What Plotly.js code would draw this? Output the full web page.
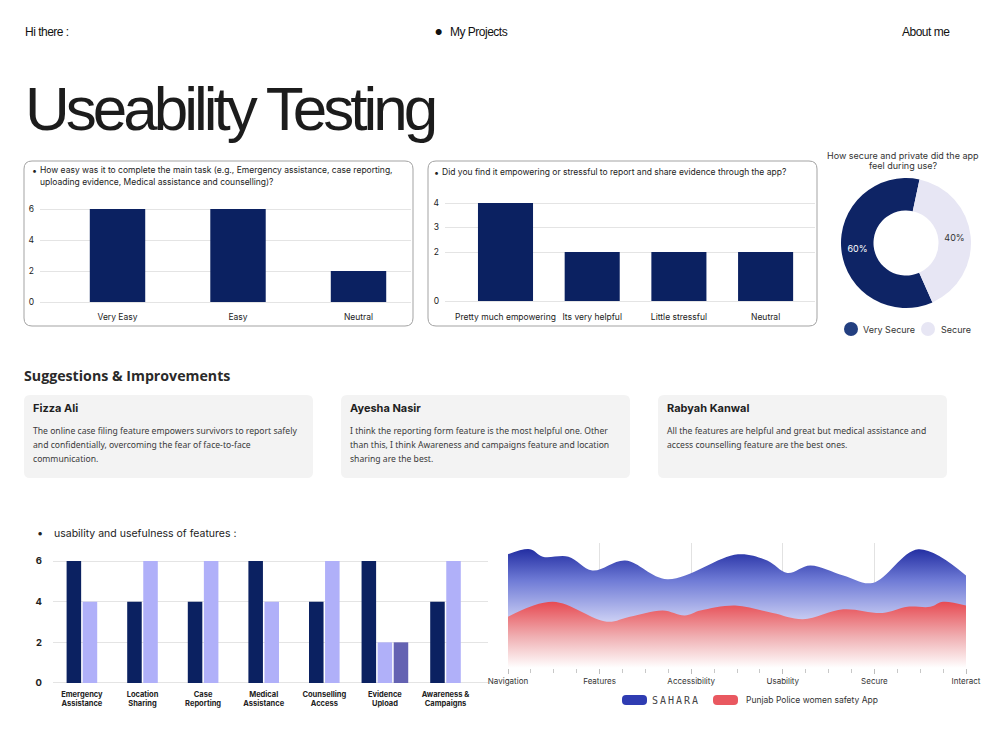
<!DOCTYPE html>
<html>
<head>
<meta charset="utf-8">
<script src="https://cdn.plot.ly/plotly-3.0.1.min.js"></script>
<style>
  html, body { margin: 0; padding: 0; background: #ffffff; }
  #page { width: 1000px; height: 750px; }
</style>
</head>
<body>
<div id="page"></div>
<script>
// ---- survey results ----
const easeCategories = ['Very Easy', 'Easy', 'Neutral'];
const easeCounts = [6, 6, 2];

const feelCategories = ['Pretty much empowering', 'Its very helpful', 'Little stressful', 'Neutral'];
const feelCounts = [4, 2, 2, 2];
const feelTicks = [0, 2, 3, 4];

const securityLabels = ['Very Secure', 'Secure'];
const securityShares = [60, 40];

const featureNames = ['Emergency<br>Assistance', 'Location<br>Sharing', 'Case<br>Reporting',
  'Medical<br>Assistance', 'Counselling<br>Access', 'Evidence<br>Upload', 'Awareness &<br>Campaigns'];
const featureRatingA = [6, 4, 4, 6, 4, 6, 4];
const featureRatingB = [4, 6, 6, 4, 6, 2, 6];
const featureRatingC = [null, null, null, null, null, 2, null];

const compareAspects = ['Navigation', 'Features', 'Accessibility', 'Usability', 'Secure', 'Interact'];
const saharaPos = [0, 0.24, 0.38, 0.66, 0.92, 1.28, 1.74, 2.51, 2.83, 3.05, 3.30, 3.66, 3.98, 4.48, 5];
const saharaScore = [91, 95, 89, 89, 78, 86, 71, 91, 86, 76, 82, 74, 68, 95, 74];
const punjabPos = [0, 0.49, 1.08, 1.33, 1.69, 1.93, 2.10, 2.48, 2.89, 3.22, 3.66, 4.09, 4.36, 4.61, 4.75, 5];
const punjabScore = [41, 53, 37, 41, 46, 42, 46, 50, 44, 39, 47, 44, 49, 49, 53, 50];

const reviewers = ['Fizza Ali', 'Ayesha Nasir', 'Rabyah Kanwal'];
const reviewLines = [
  ['The online case filing feature empowers survivors to report safely',
   'and confidentially, overcoming the fear of face-to-face',
   'communication.'],
  ['I think the reporting form feature is the most helpful one. Other',
   'than this, I think Awareness and campaigns feature and location',
   'sharing are the best.'],
  ['All the features are helpful and great but medical assistance and',
   'access counselling feature are the best ones.']
];

// ---- page geometry helpers (pixel -> paper) ----
const W = 1000, H = 750;
const fx = p => p / W;
const fy = p => 1 - p / H;

const NAVY = '#0b2161';
const LAVENDER = '#b0b0f9';
const PURPLE = '#6462b2';
const SANS = 'Inter, "Liberation Sans", sans-serif';
const BODY = '"Noto Sans", "Open Sans", sans-serif';
const HEAD = '"Liberation Sans", Arial, sans-serif';

function roundRect(x0, y0, x1, y1, r, fill, line) {
  const rx = r / W, ry = r / H;
  const X0 = fx(x0), X1 = fx(x1), Y0 = fy(y0), Y1 = fy(y1);
  const path = `M ${X0 + rx} ${Y0} L ${X1 - rx} ${Y0} Q ${X1} ${Y0} ${X1} ${Y0 - ry} ` +
    `L ${X1} ${Y1 + ry} Q ${X1} ${Y1} ${X1 - rx} ${Y1} L ${X0 + rx} ${Y1} Q ${X0} ${Y1} ${X0} ${Y1 + ry} ` +
    `L ${X0} ${Y0 - ry} Q ${X0} ${Y0} ${X0 + rx} ${Y0} Z`;
  return { type: 'path', xref: 'paper', yref: 'paper', path: path,
    fillcolor: fill, line: line || { width: 0 }, layer: 'below' };
}

function text(t, x, y, size, opts) {
  opts = opts || {};
  return {
    text: t, x: fx(x), y: fy(y), xref: 'paper', yref: 'paper',
    xanchor: opts.anchor || 'left', yanchor: 'middle', align: opts.align || 'left',
    showarrow: false, borderpad: 0,
    font: { family: opts.family || SANS, size: size, color: opts.color || '#222222',
            weight: opts.weight || 400 }
  };
}
const tracked = (t, px) => `<span style="letter-spacing:${px}px">${t}</span>`;

// vertical extent of a bar panel from the pixel row of zero and pixels per unit
function yDomain(zeroPx, unitPx, lo, hi) {
  return [fy(zeroPx - lo * unitPx), fy(zeroPx - hi * unitPx)];
}
// category axis range from panel edges, first category centre and spacing (pixels)
function xRange(leftPx, rightPx, firstPx, stepPx) {
  return [(leftPx - firstPx) / stepPx, (rightPx - firstPx) / stepPx];
}

const traces = [];

// panel 1: ease of completing the main task
traces.push({
  type: 'bar', x: easeCategories, y: easeCounts, xaxis: 'x', yaxis: 'y',
  marker: { color: NAVY }, width: 0.46, hoverinfo: 'skip'
});

// panel 2: empowering or stressful
traces.push({
  type: 'bar', x: feelCategories, y: feelCounts, xaxis: 'x2', yaxis: 'y2',
  marker: { color: NAVY }, width: 0.635, hoverinfo: 'skip'
});

// donut: perceived security
traces.push({
  type: 'pie', labels: securityLabels, values: securityShares, hole: 0.5,
  sort: false, direction: 'clockwise', rotation: 156,
  domain: { x: [fx(841), fx(971)], y: [fy(308), fy(178)] },
  marker: { colors: ['#0e2465', '#e7e6f4'], line: { width: 0 } },
  textinfo: 'percent', textposition: 'inside', insidetextorientation: 'horizontal',
  textfont: { family: SANS, size: 9, color: ['#ffffff', '#333333'] },
  hoverinfo: 'skip', showlegend: false
});

// panel 3: feature ratings, each group centred on its category
const featureSeries = [featureRatingA, featureRatingB, featureRatingC];
const featureColors = [NAVY, LAVENDER, PURPLE];
const slot = 0.265, barW = 0.24;
featureSeries.forEach((series, k) => {
  const offsets = series.map((v, i) => {
    const present = featureSeries.map(s => s[i] != null);
    const n = present.filter(Boolean).length;
    const rank = present.slice(0, k).filter(Boolean).length;
    return -n * slot / 2 + rank * slot + (slot - barW) / 2;
  });
  traces.push({
    type: 'bar', x: featureNames, y: series, xaxis: 'x3', yaxis: 'y3',
    offset: offsets, width: barW, marker: { color: featureColors[k] }, hoverinfo: 'skip'
  });
});

// panel 4: app comparison areas
traces.push({
  type: 'scatter', mode: 'lines', x: saharaPos, y: saharaScore, xaxis: 'x4', yaxis: 'y4',
  line: { width: 0, shape: 'spline', smoothing: 1, color: '#1a269c' },
  fill: 'tozeroy',
  fillgradient: { type: 'vertical', start: 0, stop: 100,
    colorscale: [[0, '#ffffff'], [0.38, '#c9cdf3'], [0.7, '#6f7bd6'], [1, '#141f98']] },
  hoverinfo: 'skip'
});
traces.push({
  type: 'scatter', mode: 'lines', x: punjabPos, y: punjabScore, xaxis: 'x4', yaxis: 'y4',
  line: { width: 0, shape: 'spline', smoothing: 1, color: '#e6434b' },
  fill: 'tozeroy',
  fillgradient: { type: 'vertical', start: 0, stop: 55,
    colorscale: [[0, '#ffffff'], [0.45, '#f0b0b3'], [1, '#e6434b']] },
  hoverinfo: 'skip'
});

const gridColor = '#e4e4e4';
const tickFont = { family: SANS, size: 8.5, color: '#222222' };

const layout = {
  width: W, height: H,
  margin: { l: 0, r: 0, t: 0, b: 0 },
  paper_bgcolor: '#ffffff', plot_bgcolor: 'rgba(0,0,0,0)',
  showlegend: false, barmode: 'overlay',
  font: { family: SANS },

  xaxis: { domain: [fx(40), fx(411)], range: xRange(40, 411, 117.5, 120.5), type: 'category',
    anchor: 'y', showgrid: false, zeroline: false, ticks: '', ticklabelstandoff: 8,
    tickfont: tickFont, fixedrange: true },
  yaxis: { domain: yDomain(302, 15.5, -0.06, 6.4), range: [-0.06, 6.4], anchor: 'x',
    tickvals: [0, 2, 4, 6], showgrid: true, gridcolor: gridColor, zeroline: true,
    zerolinecolor: gridColor, zerolinewidth: 1, ticks: '', ticklabelstandoff: 5,
    tickfont: tickFont, fixedrange: true },

  xaxis2: { domain: [fx(445), fx(815)], range: xRange(445, 815, 505.5, 86.7), type: 'category',
    anchor: 'y2', showgrid: false, zeroline: false, ticks: '', ticklabelstandoff: 9,
    tickfont: tickFont, fixedrange: true },
  yaxis2: { domain: yDomain(301, 24.5, -0.04, 4.2), range: [-0.04, 4.2], anchor: 'x2',
    tickvals: feelTicks, showgrid: true, gridcolor: gridColor, zeroline: true,
    zerolinecolor: gridColor, zerolinewidth: 1, ticks: '', ticklabelstandoff: 5,
    tickfont: tickFont, fixedrange: true },

  xaxis3: { domain: [fx(53), fx(488)], range: xRange(53, 488, 81.9, 60.6), type: 'category',
    anchor: 'y3', showgrid: false, zeroline: false, ticks: '', ticklabelstandoff: 4,
    tickfont: { family: SANS, size: 7.5, color: '#222222', weight: 700 }, fixedrange: true },
  yaxis3: { domain: yDomain(683, 20.33, -0.05, 6.4), range: [-0.05, 6.4], anchor: 'x3',
    tickvals: [0, 2, 4, 6], showgrid: true, gridcolor: gridColor, zeroline: true,
    zerolinecolor: gridColor, zerolinewidth: 1, ticks: '', ticklabelstandoff: 10,
    tickfont: { family: SANS, size: 9.5, color: '#222222', weight: 700 }, fixedrange: true },

  xaxis4: { domain: [fx(508), fx(966)], range: [0, 5], anchor: 'y4',
    tickvals: [0, 1, 2, 3, 4, 5], ticktext: compareAspects,
    showgrid: true, gridcolor: '#e2e2e2', zeroline: false, showline: false,
    ticks: 'outside', ticklen: 5, tickcolor: '#bdbdbd', tickwidth: 1,
    minor: { dtick: 0.25, ticks: 'outside', ticklen: 4, tickcolor: '#c8c8c8', showgrid: false },
    tickfont: { family: SANS, size: 8, color: '#333333' }, fixedrange: true },
  yaxis4: { domain: [fy(668), fy(543)], range: [0, 100], anchor: 'x4',
    visible: false, showgrid: false, zeroline: false, fixedrange: true },

  shapes: [],
  annotations: []
};

const shapes = layout.shapes, notes = layout.annotations;

// header
notes.push(text(tracked('Hi there :', -0.5), 24, 32, 12, { family: HEAD, color: '#111111' }));
notes.push(text('●', 434, 32, 8, { color: '#111111' }));
notes.push(text(tracked('My Projects', -0.5), 449, 32, 12, { family: HEAD, color: '#111111' }));
notes.push(text(tracked('About me', -0.5), 951, 32, 12, { family: HEAD, color: '#111111', anchor: 'right' }));
notes.push(text(tracked('Useability Testing', -4), 24, 108, 62, { family: HEAD, color: '#1c1c1c' }));

// question cards
shapes.push(roundRect(24, 161, 413, 326, 8, '#ffffff', { color: '#a3a3a3', width: 1 }));
shapes.push(roundRect(428, 161, 817, 326, 8, '#ffffff', { color: '#a3a3a3', width: 1 }));
notes.push(text('•', 31, 170, 9));
notes.push(text('How easy was it to complete the main task (e.g., Emergency assistance, case reporting,', 39, 170, 8.5));
notes.push(text('uploading evidence, Medical assistance and counselling)?', 39, 182, 8.5));
notes.push(text('•', 433, 172, 9));
notes.push(text('Did you find it empowering or stressful to report and share evidence through the app?', 441, 172, 8.5));

// donut title and legend
notes.push(text('How secure and private did the app', 903, 155, 9, { anchor: 'center', color: '#333333' }));
notes.push(text('feel during use?', 903, 165.5, 9, { anchor: 'center', color: '#333333' }));
shapes.push({ type: 'circle', xref: 'paper', yref: 'paper', x0: fx(844), x1: fx(858), y0: fy(336), y1: fy(322),
  fillcolor: '#233f80', line: { width: 0 } });
shapes.push({ type: 'circle', xref: 'paper', yref: 'paper', x0: fx(921), x1: fx(935), y0: fy(336), y1: fy(322),
  fillcolor: '#e7e6f4', line: { width: 0 } });
notes.push(text(securityLabels[0], 862, 329, 9, { color: '#333333' }));
notes.push(text(securityLabels[1], 940, 329, 9, { color: '#333333' }));

// suggestions
notes.push(text('Suggestions &amp; Improvements', 23, 375, 14.2, { family: '"Open Sans", sans-serif', weight: 700, color: '#2a2a2a' }));
const cardLeft = [24, 341, 658];
cardLeft.forEach((x0, i) => {
  shapes.push(roundRect(x0, 395, x0 + 289, 478, 6, '#f3f3f3'));
  notes.push(text(reviewers[i], x0 + 8, 407.5, 11, { weight: 700, color: '#1f1f1f' }));
  reviewLines[i].forEach((line, j) => {
    notes.push(text(line, x0 + 8, 431 + j * 14, 8.6, { family: BODY, color: '#3a3a3a' }));
  });
});

// feature panel heading
notes.push(text('•', 36, 533, 11));
notes.push(text('usability and usefulness of features :', 53, 533, 10.5, { color: '#222222' }));

// comparison legend
shapes.push(roundRect(622, 695, 647, 705, 4, '#2f3cb2'));
shapes.push(roundRect(713, 695, 738, 705, 4, '#e95860'));
notes.push(text(tracked('SAHARA', 2), 651, 700, 10,
  { family: '"DejaVu Sans Mono", monospace', color: '#444444' }));
notes.push(text('Punjab Police women safety App', 745, 700, 8.5, { color: '#333333' }));

Plotly.newPlot('page', traces, layout, { displayModeBar: false, staticPlot: true });
</script>
</body>
</html>
